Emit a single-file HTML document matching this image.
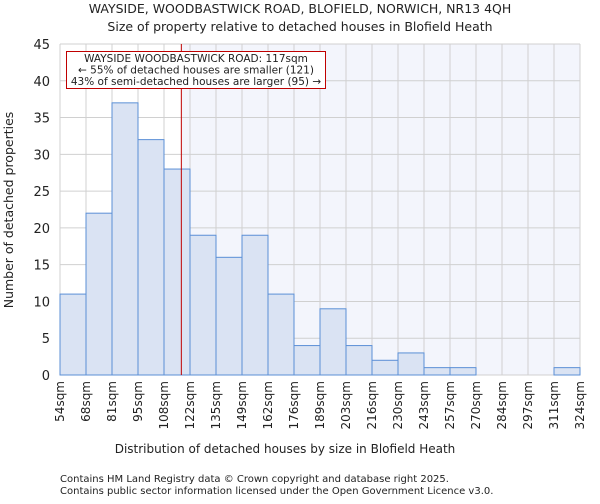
<!DOCTYPE html>
<html><head><meta charset="utf-8"><style>
body{margin:0;background:#fff;font-family:"DejaVu Sans","Liberation Sans",sans-serif;}
svg text{font-family:"DejaVu Sans","Liberation Sans",sans-serif;fill:#222;}
</style></head><body>
<svg id="chart" width="600" height="500" xmlns="http://www.w3.org/2000/svg">
<text x="300" y="13" font-size="12.5" text-anchor="middle">WAYSIDE, WOODBASTWICK ROAD, BLOFIELD, NORWICH, NR13 4QH</text>
<text x="300" y="31" font-size="12.5" text-anchor="middle">Size of property relative to detached houses in Blofield Heath</text>
<g id="plot"></g>
<text x="285" y="453" font-size="12" text-anchor="middle">Distribution of detached houses by size in Blofield Heath</text>
<text transform="translate(13,210) rotate(-90)" font-size="12.5" text-anchor="middle">Number of detached properties</text>
<text x="60" y="482" font-size="10" fill="#444">Contains HM Land Registry data © Crown copyright and database right 2025.</text>
<text x="60" y="494" font-size="10" fill="#444">Contains public sector information licensed under the Open Government Licence v3.0.</text>
</svg>
<script>
const binLabels=["54sqm","68sqm","81sqm","95sqm","108sqm","122sqm","135sqm","149sqm","162sqm","176sqm","189sqm","203sqm","216sqm","230sqm","243sqm","257sqm","270sqm","284sqm","297sqm","311sqm","324sqm"];
const binEdges=[54,67.5,81,94.5,108,121.5,135,148.5,162,175.5,189,202.5,216,229.5,243,256.5,270,283.5,297,310.5,324];
const counts=[11,22,37,32,28,19,16,19,11,4,9,4,2,3,1,1,0,0,0,1];
const yTicks=[0,5,10,15,20,25,30,35,40,45];
const subjectSize=117;
const X0=60,X1=580,Y0=375,Y1=44;
const xs=v=>X0+(v-binEdges[0])/(binEdges[binEdges.length-1]-binEdges[0])*(X1-X0);
const ys=v=>Y0-v/45*(Y0-Y1);
const NS="http://www.w3.org/2000/svg";
const g=document.getElementById('plot');
function mk(t,a){const e=document.createElementNS(NS,t);for(const k in a)e.setAttribute(k,a[k]);g.appendChild(e);return e;}
const sx=xs(subjectSize);
let r=mk('rect',{x:sx,y:Y1,width:X1-sx,height:Y0-Y1,fill:'#f3f5fc'});


yTicks.forEach(t=>{let l=mk('line',{x1:X0,x2:X1,y1:ys(t),y2:ys(t),stroke:'#d0d0d0','stroke-width':1});


let tx=mk('text',{x:X0-10,y:ys(t)+5,'font-size':13,'text-anchor':'end'});tx.textContent=t;

});
binEdges.forEach((b,i)=>{let l=mk('line',{x1:xs(b),x2:xs(b),y1:Y1,y2:Y0,stroke:'#d0d0d0','stroke-width':1});


const x=xs(b)+4;let tx=mk('text',{x:x,y:381,'font-size':12,'text-anchor':'end',transform:`rotate(-90 ${x} 381)`});tx.textContent=binLabels[i];

});
counts.forEach((c,i)=>{if(c<=0)return;let b=mk('rect',{x:xs(binEdges[i]),y:ys(c),width:xs(binEdges[i+1])-xs(binEdges[i]),height:Y0-ys(c),fill:'#dae3f3',stroke:'#5b8fd6','stroke-width':1});

});
let ln=mk('line',{x1:sx,x2:sx,y1:Y1,y2:Y0,stroke:'#c00000','stroke-width':1});


let bx=mk('rect',{x:66.5,y:51.5,width:259,height:37,fill:'#fff',stroke:'#c00000','stroke-width':1});


["WAYSIDE WOODBASTWICK ROAD: 117sqm","← 55% of detached houses are smaller (121)","43% of semi-detached houses are larger (95) →"].forEach((s,i)=>{let t=mk('text',{x:196,y:62+i*11.5,'font-size':10.5,'text-anchor':'middle'});t.textContent=s;

});
</script>
</body></html>
